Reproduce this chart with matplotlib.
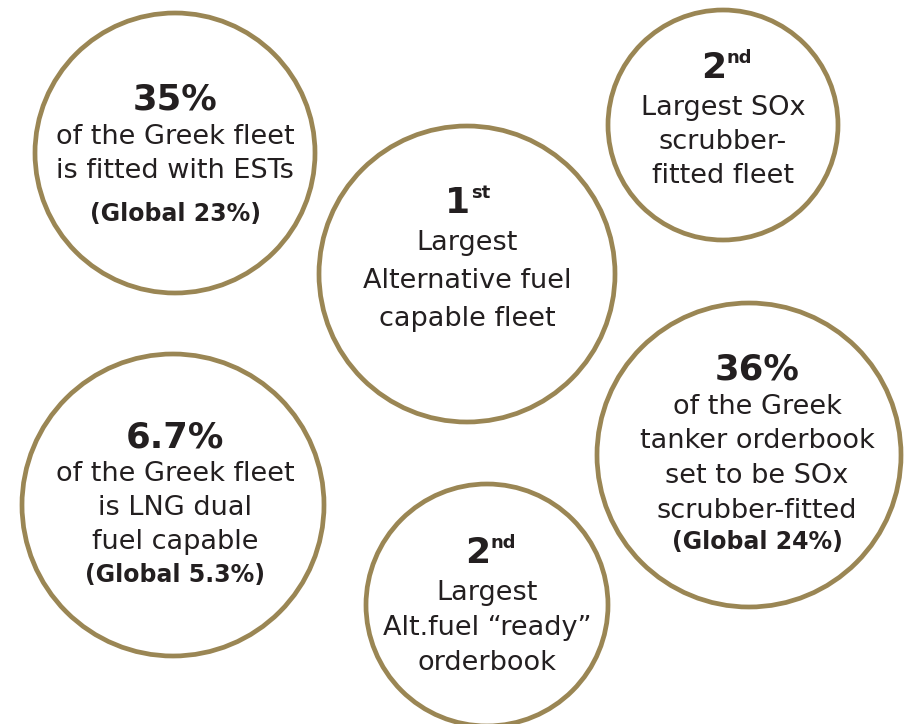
import matplotlib
matplotlib.use('Agg')
import matplotlib.pyplot as plt
import matplotlib.patches as patches

# Infographic content
headlines = ['35%', '2', '1', '6.7%', '36%', '2']
superscripts = ['', 'nd', 'st', '', '', 'nd']
body_lines = [
	['of the Greek fleet', 'is fitted with ESTs'],
	['Largest SOx', 'scrubber-', 'fitted fleet'],
	['Largest', 'Alternative fuel', 'capable fleet'],
	['of the Greek fleet', 'is LNG dual', 'fuel capable'],
	['of the Greek', 'tanker orderbook', 'set to be SOx', 'scrubber-fitted'],
	['Largest', 'Alt.fuel \u201cready\u201d', 'orderbook'],
]
global_notes = ['(Global 23%)', '', '', '(Global 5.3%)', '(Global 24%)', '']

# Layout (pixel coords): circle centre, radius, y of headline, line spacing
circle_x = [175, 723, 467, 173, 749, 487]
circle_y = [153, 125, 274, 505, 455, 605]
circle_r = [140, 115, 148, 151, 152, 121]
head_y = [100, 68, 203, 437, 370, 553]
text_x = [175, 723, 467, 175, 757, 487]
line_gap = [34, 34, 38, 34, 34.5, 35]
note_gap = [43, 0, 0, 33, 31, 0]

gold = '#9a8654'
ink = '#231f20'
font = 'DejaVu Sans'

fig = plt.figure(figsize=(9.06, 7.24), dpi=100)
ax = fig.add_axes([0, 0, 1, 1])
ax.set_xlim(0, 906)
ax.set_ylim(724, 0)
ax.set_aspect('equal')
ax.axis('off')

for i in range(len(headlines)):
	circ = patches.Circle((circle_x[i], circle_y[i]), circle_r[i], facecolor='white',
		edgecolor=gold, linewidth=3.4, zorder=1)
	ax.add_patch(circ)

	tx = text_x[i]
	hy = head_y[i]
	if superscripts[i]:
		ax.text(tx + 3, hy, headlines[i], ha='right', va='center', fontsize=26,
			fontweight='bold', color=ink, family=font, zorder=3)
		ax.text(tx + 4, hy - 10, superscripts[i], ha='left', va='center', fontsize=13,
			fontweight='bold', color=ink, family=font, zorder=3)
	else:
		ax.text(tx, hy, headlines[i], ha='center', va='center', fontsize=25.5,
			fontweight='bold', color=ink, family=font, zorder=3)

	y = hy + 40 if superscripts[i] else hy + 37
	for line in body_lines[i]:
		ax.text(tx, y, line, ha='center', va='center', fontsize=19.5, color=ink,
			family=font, zorder=3)
		last = y
		y += line_gap[i]

	if global_notes[i]:
		ax.text(tx, last + note_gap[i], global_notes[i], ha='center', va='center',
			fontsize=17, fontweight='bold', color=ink, family=font, zorder=3)

plt.savefig('out.png', dpi=100, facecolor='white')
